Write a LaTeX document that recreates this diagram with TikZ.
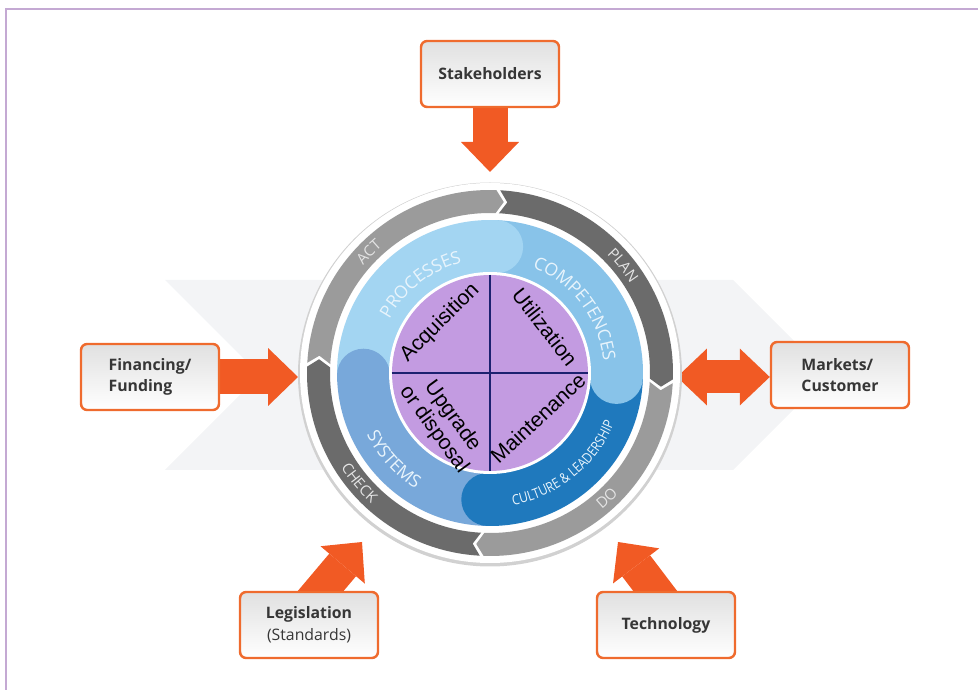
\documentclass[tikz,border=0pt]{standalone}
\usepackage{fontspec}
\setmainfont{Open Sans}
\newfontfamily\quadfont{Liberation Sans}
\newfontfamily\slimfont[FakeStretch=0.85]{Open Sans}
\usetikzlibrary{arrows.meta,calc,decorations.text}

\definecolor{arrowor}{HTML}{F15A24}
\definecolor{boxor}{HTML}{EF6B2E}
\definecolor{ringlt}{HTML}{9B9B9B}
\definecolor{ringdk}{HTML}{6B6B6B}
\definecolor{procblue}{HTML}{A3D5F2}
\definecolor{compblue}{HTML}{88C3E9}
\definecolor{cultblue}{HTML}{1F79BD}
\definecolor{sysblue}{HTML}{78A8DA}
\definecolor{quadpurp}{HTML}{C39BE1}
\definecolor{crossnavy}{HTML}{1C2170}
\definecolor{chevbg}{HTML}{F3F4F6}
\definecolor{framelilac}{HTML}{C4A9D3}
\definecolor{boxtext}{HTML}{363636}
\definecolor{bandtext}{HTML}{E8F4FC}
\definecolor{ringtext}{HTML}{E4E4E4}

\newcommand\bandtxt{\fontsize{10}{12}\selectfont\color{bandtext}}
\newcommand\culttxt{\slimfont\fontsize{8}{10}\selectfont\color{bandtext}}
\newcommand\ringtxt{\fontsize{8.5}{10}\selectfont\color{ringtext}}

\pgfdeclarelayer{back}
\pgfdeclarelayer{mid}
\pgfsetlayers{back,mid,main}

\tikzset{ext/.style = {draw=boxor, line width=1.4pt, rounded corners=3.5pt, minimum width=2.76cm,
                       minimum height=1.32cm, inner sep=0pt, top color=black!12, bottom color=white,
                       text=boxtext, font=\fontsize{9}{12.3}\selectfont\bfseries},
         fat/.style = {arrowor, line width=0.7cm, -{Triangle[length=0.6cm, width=1.16cm, line width=0pt]}},
         fatboth/.style = {arrowor, line width=0.66cm,
                       {Triangle[length=0.6cm, width=1.14cm, line width=0pt]}-{Triangle[length=0.6cm, width=1.14cm, line width=0pt]}},
         quad/.style = {font=\quadfont\fontsize{12}{13}\selectfont, align=center, inner sep=0pt},
         band/.style = {decorate, decoration={text along path, text align=center, text={#1}}}}

\begin{document}
\begin{tikzpicture}[x=0.02cm, y=0.02cm]
  \useasboundingbox (0,0) rectangle (978,690);
  \draw[framelilac, line width=0.9pt] (6,0) -- (6,681) -- (978,681);

  % pale chevron behind the wheel
  \begin{pgfonlayer}{back}
    \fill[chevbg] (165,410) -- (733,410) -- (828,315) -- (733,220) -- (165,220) -- (260,315) -- cycle;
  \end{pgfonlayer}

  \coordinate (C) at (490,317);
  \begin{scope}[shift={(C)}]
    \fill[black!18] (0,-1.5) circle[radius=192];
    \fill[white] (0,0) circle[radius=190];
    % PDCA ring
    \foreach \s/\e/\col in {178/88/ringlt, 88/-2/ringdk, -2/-92/ringlt, -92/-182/ringdk}
      \fill[\col] ({\s-1.2}:183) arc[start angle=\s-1.2, end angle=\e, radius=183] -- ({\e-2.6}:171.5)
        -- (\e:160) arc[start angle=\e, end angle=\s-1.2, radius=160] -- ({\s-3.8}:171.5) -- cycle;
    % blue bands
    \foreach \s/\e/\col in {181/87/procblue, 87/-2/compblue, -2/-91/cultblue, -91/-179/sysblue}
      \fill[\col] (\s:153) arc[start angle=\s, end angle=\e, radius=153] -- (\e:100)
        arc[start angle=\e, end angle=\s, radius=100] -- cycle;
    \foreach \e/\col in {87/procblue, -2/compblue, -91/cultblue, -179/sysblue}
      \fill[\col] (\e:126.5) circle[radius=26.5];
    \path[band={|\bandtxt|PROCESSES}] (165:114) arc[start angle=165, end angle=91, radius=114];
    \path[band={|\bandtxt|COMPETENCES}] (78:114) arc[start angle=78, end angle=-4, radius=114];
    \path[band={|\bandtxt|SYSTEMS}] (190:138) arc[start angle=190, end angle=254, radius=138];
    \path[band={|\culttxt|CULTURE {\&} LEADERSHIP}] (-92:134) arc[start angle=-92, end angle=-10, radius=134];
    \path[band={|\ringtxt|ACT}] (160:166.5) arc[start angle=160, end angle=110, radius=166.5];
    \path[band={|\ringtxt|PLAN}] (65:166.5) arc[start angle=65, end angle=13, radius=166.5];
    \path[band={|\ringtxt|CHECK}] (195:176.5) arc[start angle=195, end angle=245, radius=176.5];
    \path[band={|\ringtxt|DO}] (-72:176.5) arc[start angle=-72, end angle=-22, radius=176.5];
    % life-cycle quadrants
    \fill[white] (0,0) circle[radius=101];
    \node[circle, fill=quadpurp, minimum size=3.92cm, inner sep=0pt] (core) at (0,0) {};
    \draw[crossnavy, line width=1.1pt] (core.west) -- (core.east);
    \draw[crossnavy, line width=1.1pt] (core.north) -- (core.south);
    \node[quad, rotate=45] (acq) at (-50,50) {Acquisition};
    \node[quad, rotate=-52] (util) at (55,46) {Utilization};
    \node[quad, rotate=-54] (upg) at (-47,-50) {Upgrade\\or disposal};
    \node[quad, rotate=43] (maint) at (48,-45) {Maintenance};
  \end{scope}

  \node[ext] (stake) at (490,616) {Stakeholders};
  \node[ext, align=left] (fund) at (150,313) {Financing/\\Funding};
  \node[ext, align=left] (market) at (840,315) {Markets/\\Customer};
  \node[ext, align=center] (legis) at (309,65) {Legislation\\\mdseries(Standards)};
  \node[ext] (techno) at (666,65) {Technology};

  \coordinate (stake-tip) at (490,518);
  \coordinate (fund-tip) at (298,313);
  \coordinate (mkt-tip) at (677,313);
  \coordinate (legis-tip) at (362,148);
  \coordinate (techno-tip) at (618,148);
  \begin{pgfonlayer}{mid}
    \draw[fat] (stake.south) -- (stake-tip);
    \draw[fat] (fund.east) -- (fund-tip);
    \draw[fatboth] (mkt-tip) -- (mkt-tip -| market.west);
    \draw[fat] ($(legis.center)+(-17,0)$) -- (legis-tip);
    \draw[fat] ($(techno.center)+(15,0)$) -- (techno-tip);
  \end{pgfonlayer}
\end{tikzpicture}
\end{document}
